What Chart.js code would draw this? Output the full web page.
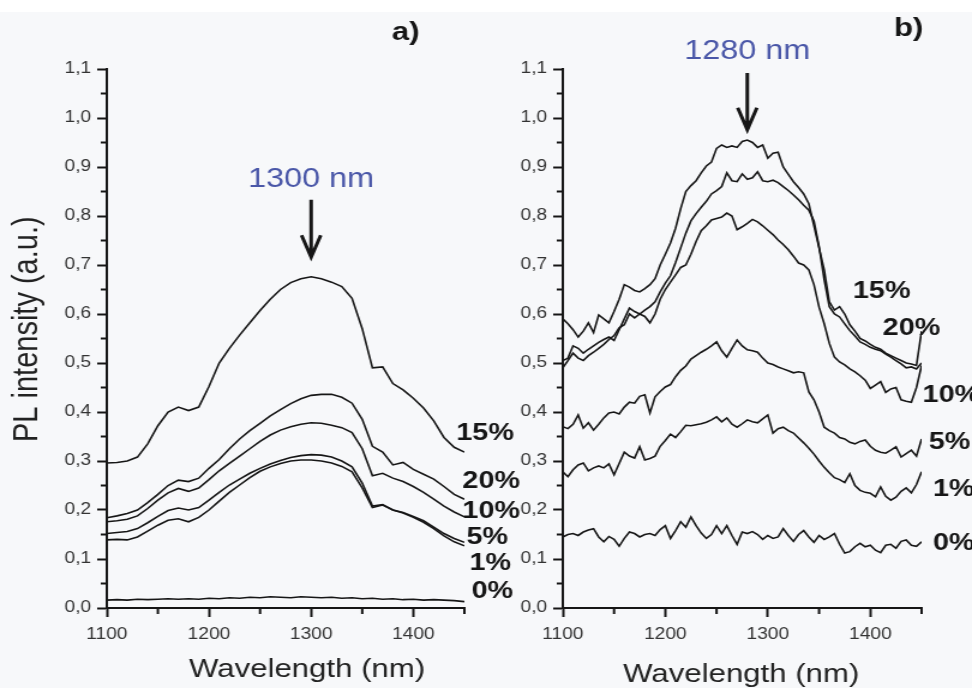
<!DOCTYPE html>
<html>
<head>
<meta charset="utf-8">
<script src="https://cdn.jsdelivr.net/npm/chart.js@4.4.1/dist/chart.umd.min.js"></script>
<style>
  html, body { margin: 0; padding: 0; background: #f7f8fa; }
  body { width: 972px; height: 688px; position: relative; overflow: hidden; }
  #topband { position: absolute; left: 0; top: 0; width: 972px; height: 12px; background: #fff; }
  canvas { position: absolute; top: 0; }
</style>
</head>
<body>
<div id="topband"></div>
<!-- the original figure is stretched sideways, so each canvas is drawn narrow and widened by CSS -->
<canvas id="chartA" width="450" height="688" style="left:0;width:540px;height:688px"></canvas>
<canvas id="chartB" width="405" height="688" style="left:486px;width:486px;height:688px"></canvas>
<script>
// ================================ //
//  Données : spectres PL (a et b)  //
// ================================ //
const WL_A = [1100, 1110, 1120, 1130, 1140, 1150, 1160, 1170, 1180, 1190,
              1200, 1210, 1220, 1230, 1240, 1250, 1260, 1270, 1280, 1290,
              1300, 1310, 1320, 1330, 1340, 1350, 1360, 1370, 1380, 1390,
              1400, 1410, 1420, 1430, 1440, 1450];

const A_15 = [0.296, 0.297, 0.300, 0.308, 0.335, 0.372, 0.400, 0.410, 0.403, 0.410,
              0.452, 0.500, 0.530, 0.557, 0.582, 0.607, 0.630, 0.650, 0.664, 0.672,
              0.676, 0.672, 0.665, 0.656, 0.632, 0.570, 0.490, 0.492, 0.458, 0.445,
              0.428, 0.408, 0.382, 0.348, 0.328, 0.318];
const A_20 = [0.184, 0.188, 0.193, 0.200, 0.215, 0.232, 0.250, 0.261, 0.258, 0.265,
              0.285, 0.303, 0.325, 0.345, 0.362, 0.377, 0.392, 0.405, 0.417, 0.427,
              0.434, 0.436, 0.436, 0.430, 0.418, 0.385, 0.330, 0.318, 0.292, 0.297,
              0.283, 0.273, 0.263, 0.248, 0.232, 0.222];
const A_10 = [0.176, 0.178, 0.181, 0.188, 0.203, 0.220, 0.235, 0.244, 0.238, 0.245,
              0.262, 0.280, 0.295, 0.310, 0.325, 0.340, 0.353, 0.363, 0.370, 0.375,
              0.378, 0.377, 0.373, 0.368, 0.358, 0.325, 0.270, 0.275, 0.265, 0.258,
              0.248, 0.236, 0.222, 0.208, 0.196, 0.186];
const A_5 = [0.152, 0.154, 0.156, 0.162, 0.174, 0.187, 0.199, 0.204, 0.200, 0.205,
             0.220, 0.236, 0.251, 0.263, 0.275, 0.285, 0.294, 0.301, 0.307, 0.311,
             0.313, 0.312, 0.308, 0.300, 0.288, 0.255, 0.208, 0.211, 0.200, 0.195,
             0.187, 0.178, 0.165, 0.152, 0.142, 0.134];
const A_1 = [0.139, 0.140, 0.139, 0.145, 0.157, 0.169, 0.179, 0.182, 0.176, 0.185,
             0.200, 0.218, 0.236, 0.251, 0.266, 0.279, 0.288, 0.295, 0.300, 0.302,
             0.302, 0.300, 0.296, 0.289, 0.278, 0.245, 0.205, 0.210, 0.200, 0.194,
             0.185, 0.175, 0.162, 0.147, 0.135, 0.127];
const A_0 = [0.016, 0.017, 0.016, 0.018, 0.017, 0.018, 0.019, 0.018, 0.019, 0.018,
             0.020, 0.019, 0.021, 0.020, 0.022, 0.021, 0.023, 0.022, 0.021, 0.023,
             0.022, 0.021, 0.022, 0.020, 0.021, 0.019, 0.020, 0.018, 0.019, 0.017,
             0.018, 0.016, 0.017, 0.016, 0.015, 0.013];

const WL_B = [1100, 1105, 1110, 1115, 1120, 1125, 1130, 1135, 1140, 1145,
              1150, 1155, 1160, 1165, 1170, 1175, 1180, 1185, 1190, 1195,
              1200, 1205, 1210, 1215, 1220, 1225, 1230, 1235, 1240, 1245,
              1250, 1255, 1260, 1265, 1270, 1275, 1280, 1285, 1290, 1295,
              1300, 1305, 1310, 1315, 1320, 1325, 1330, 1335, 1340, 1345,
              1350, 1355, 1360, 1365, 1370, 1375, 1380, 1385, 1390, 1395,
              1400, 1405, 1410, 1415, 1420, 1425, 1430, 1435, 1440, 1445,
              1450];

const B_15 = [0.590, 0.580, 0.568, 0.553, 0.565, 0.582, 0.562, 0.598, 0.590, 0.582,
              0.605, 0.630, 0.660, 0.655, 0.648, 0.645, 0.652, 0.660, 0.672, 0.700,
              0.722, 0.745, 0.775, 0.815, 0.850, 0.862, 0.872, 0.888, 0.902, 0.910,
              0.938, 0.945, 0.940, 0.943, 0.940, 0.952, 0.955, 0.950, 0.940, 0.945,
              0.918, 0.928, 0.930, 0.900, 0.885, 0.870, 0.858, 0.845, 0.825, 0.780,
              0.735, 0.690, 0.625, 0.608, 0.615, 0.600, 0.578, 0.565, 0.550, 0.545,
              0.538, 0.532, 0.528, 0.520, 0.515, 0.510, 0.505, 0.500, 0.498, 0.495,
              0.565];
const B_20 = [0.505, 0.510, 0.535, 0.530, 0.520, 0.528, 0.535, 0.542, 0.548, 0.553,
              0.546, 0.568, 0.590, 0.612, 0.605, 0.600, 0.608, 0.615, 0.625, 0.645,
              0.663, 0.678, 0.705, 0.735, 0.765, 0.790, 0.805, 0.818, 0.830, 0.845,
              0.852, 0.860, 0.888, 0.872, 0.870, 0.886, 0.875, 0.878, 0.890, 0.872,
              0.870, 0.873, 0.868, 0.860, 0.852, 0.843, 0.833, 0.822, 0.812, 0.790,
              0.737, 0.670, 0.615, 0.600, 0.594, 0.580, 0.566, 0.555, 0.543, 0.538,
              0.532, 0.528, 0.525, 0.518, 0.512, 0.505, 0.498, 0.490, 0.492, 0.488,
              0.500];
const B_10 = [0.490, 0.505, 0.520, 0.510, 0.505, 0.515, 0.522, 0.530, 0.538, 0.548,
              0.556, 0.572, 0.578, 0.600, 0.592, 0.600, 0.595, 0.582, 0.600, 0.630,
              0.650, 0.665, 0.680, 0.695, 0.700, 0.722, 0.748, 0.770, 0.780, 0.792,
              0.795, 0.798, 0.806, 0.800, 0.772, 0.778, 0.785, 0.793, 0.788, 0.780,
              0.771, 0.762, 0.751, 0.742, 0.731, 0.718, 0.704, 0.700, 0.690, 0.660,
              0.614, 0.580, 0.540, 0.512, 0.502, 0.496, 0.488, 0.482, 0.474, 0.465,
              0.448, 0.455, 0.462, 0.440, 0.447, 0.450, 0.425, 0.422, 0.420, 0.450,
              0.495];
const B_5 = [0.370, 0.366, 0.375, 0.394, 0.367, 0.378, 0.363, 0.375, 0.388, 0.398,
             0.400, 0.396, 0.410, 0.420, 0.418, 0.432, 0.435, 0.398, 0.431, 0.442,
             0.451, 0.456, 0.472, 0.485, 0.494, 0.508, 0.515, 0.522, 0.528, 0.535,
             0.543, 0.525, 0.512, 0.530, 0.547, 0.535, 0.527, 0.525, 0.522, 0.510,
             0.500, 0.497, 0.492, 0.488, 0.484, 0.480, 0.482, 0.480, 0.441, 0.425,
             0.400, 0.369, 0.362, 0.357, 0.348, 0.345, 0.338, 0.335, 0.340, 0.343,
             0.330, 0.322, 0.318, 0.316, 0.322, 0.329, 0.308, 0.315, 0.322, 0.310,
             0.345];
const B_1 = [0.278, 0.268, 0.282, 0.292, 0.296, 0.280, 0.286, 0.290, 0.286, 0.294,
             0.272, 0.295, 0.318, 0.310, 0.306, 0.329, 0.302, 0.305, 0.310, 0.330,
             0.342, 0.355, 0.348, 0.360, 0.373, 0.372, 0.374, 0.376, 0.379, 0.384,
             0.390, 0.380, 0.388, 0.375, 0.369, 0.376, 0.384, 0.380, 0.378, 0.386,
             0.394, 0.357, 0.366, 0.369, 0.362, 0.357, 0.347, 0.337, 0.326, 0.314,
             0.300, 0.287, 0.276, 0.266, 0.262, 0.256, 0.274, 0.250, 0.240, 0.236,
             0.234, 0.227, 0.247, 0.228, 0.220, 0.226, 0.238, 0.245, 0.235, 0.252,
             0.278];
const B_0 = [0.145, 0.150, 0.152, 0.148, 0.155, 0.159, 0.162, 0.145, 0.135, 0.146,
             0.140, 0.126, 0.142, 0.155, 0.152, 0.145, 0.150, 0.152, 0.148, 0.160,
             0.168, 0.142, 0.158, 0.176, 0.165, 0.186, 0.168, 0.153, 0.142, 0.150,
             0.168, 0.152, 0.168, 0.148, 0.130, 0.155, 0.152, 0.156, 0.150, 0.140,
             0.148, 0.142, 0.145, 0.162, 0.148, 0.136, 0.150, 0.158, 0.145, 0.134,
             0.148, 0.140, 0.145, 0.152, 0.130, 0.112, 0.115, 0.125, 0.132, 0.125,
             0.128, 0.118, 0.113, 0.128, 0.130, 0.122, 0.136, 0.139, 0.128, 0.126,
             0.135];

const SERIES_NAMES = ["15%", "20%", "10%", "5%", "1%", "0%"];
const MINOR_X = [1150, 1250, 1350, 1450];
const MINOR_Y = [0.05, 0.15, 0.25, 0.35, 0.45, 0.55, 0.65, 0.75, 0.85, 0.95, 1.05];

const FONT = "'Liberation Sans', Arial, sans-serif";
const INK = "#161616";

// ============================ //
//  Plugin : annotations, flèches //
// ============================ //
const extras = {
    id: "extras",
    afterDraw(chart, args, o) {
        const ctx = chart.ctx;
        const xs = chart.scales.x, ys = chart.scales.y;
        const area = chart.chartArea;
        const px = v => xs.getPixelForValue(v);
        const py = v => ys.getPixelForValue(v);

        ctx.save();

        // petites graduations
        ctx.strokeStyle = INK;
        ctx.lineWidth = 2;
        ctx.beginPath();
        MINOR_Y.forEach(v => {
            ctx.moveTo(area.left, py(v));
            ctx.lineTo(area.left - 5, py(v));
        });
        MINOR_X.forEach(v => {
            ctx.moveTo(px(v), area.bottom);
            ctx.lineTo(px(v), area.bottom + 6);
        });
        ctx.stroke();

        // lettre du panneau
        ctx.fillStyle = INK;
        ctx.font = `bold 26px ${FONT}`;
        ctx.textAlign = "left";
        ctx.textBaseline = "alphabetic";
        ctx.fillText(o.letter, px(o.letterAt[0]), py(o.letterAt[1]));

        // pic + flèche
        const ax = px(o.peak);
        ctx.fillStyle = "#4a57a8";
        ctx.font = `27px ${FONT}`;
        ctx.textAlign = "center";
        ctx.fillText(o.peakText, ax, py(o.peakTextV));

        const y0 = py(o.arrow[0]), y1 = py(o.arrow[1]);
        ctx.strokeStyle = INK;
        ctx.lineWidth = 3;
        ctx.beginPath();
        ctx.moveTo(ax, y0);
        ctx.lineTo(ax, y1);
        ctx.moveTo(ax - 8, y1 - 22);
        ctx.lineTo(ax, y1);
        ctx.lineTo(ax + 8, y1 - 22);
        ctx.stroke();

        // étiquettes des séries
        ctx.fillStyle = INK;
        ctx.font = `bold 24px ${FONT}`;
        ctx.textAlign = "left";
        ctx.textBaseline = "middle";
        SERIES_NAMES.forEach((name, i) => {
            const at = o.labels[i];
            ctx.fillText(name, px(at[0]), py(at[1]));
        });

        // titres des axes
        ctx.fillStyle = "#222";
        ctx.font = `26px ${FONT}`;
        ctx.textAlign = "center";
        ctx.textBaseline = "alphabetic";
        ctx.fillText("Wavelength (nm)", px(o.xTitle[0]), py(o.xTitle[1]));

        if (o.yTitle) {
            ctx.translate(o.yTitle[0], py(o.yTitle[1]));
            ctx.rotate(-Math.PI / 2);
            ctx.font = `29px ${FONT}`;
            ctx.textBaseline = "middle";
            ctx.fillText("PL intensity (a.u.)", 0, 0);
        }

        ctx.restore();
    }
};

function makeChart(id, wl, series, yAxisWidth, rightPad, notes) {
    const datasets = series.map((vals, i) => ({
        label: SERIES_NAMES[i],
        data: vals.map((v, k) => ({ x: wl[k], y: v })),
        borderColor: INK,
        borderWidth: 1.6,
        pointRadius: 0,
        fill: false,
        tension: 0
    }));

    return new Chart(document.getElementById(id), {
        type: "line",
        data: { datasets },
        plugins: [extras],
        options: {
            responsive: false,
            devicePixelRatio: 1,
            animation: false,
            layout: { padding: { left: 0, right: rightPad, top: 69, bottom: 0 } },
            plugins: {
                legend: { display: false },
                tooltip: { enabled: false },
                extras: notes
            },
            scales: {
                x: {
                    type: "linear",
                    min: 1100,
                    max: 1450,
                    border: { display: true, color: INK, width: 2 },
                    grid: { drawOnChartArea: false, drawTicks: true, tickLength: 9, tickWidth: 2, tickColor: INK },
                    ticks: {
                        stepSize: 100,
                        includeBounds: false,
                        maxRotation: 0,
                        padding: 8,
                        color: "#333",
                        font: { family: FONT, size: 16 },
                        callback: v => String(v)
                    },
                    afterFit: s => { s.height = 80; }
                },
                y: {
                    min: 0,
                    max: 1.1,
                    border: { display: true, color: INK, width: 2 },
                    grid: { drawOnChartArea: false, drawTicks: true, tickLength: 8, tickWidth: 2, tickColor: INK },
                    ticks: {
                        stepSize: 0.1,
                        padding: 5,
                        color: "#333",
                        font: { family: FONT, size: 16 },
                        callback: v => v.toFixed(1).replace(".", ",")
                    },
                    afterFit: s => { s.width = yAxisWidth; }
                }
            }
        }
    });
}

makeChart("chartA", WL_A, [A_15, A_20, A_10, A_5, A_1, A_0], 89, 63, {
    letter: "a)",
    letterAt: [1379, 1.159],
    peak: 1300,
    peakText: "1300 nm",
    peakTextV: 0.859,
    arrow: [0.833, 0.716],
    labels: [[1442, 0.357], [1448, 0.259], [1448, 0.198], [1452, 0.145], [1455, 0.092], [1457, 0.033]],
    xTitle: [1296, -0.141],
    yTitle: [22.5, 0.569]
});

makeChart("chartB", WL_B, [B_15, B_20, B_10, B_5, B_1, B_0], 64, 42, {
    letter: "b)",
    letterAt: [1423, 1.167],
    peak: 1280,
    peakText: "1280 nm",
    peakTextV: 1.120,
    arrow: [1.092, 0.976],
    labels: [[1383, 0.647], [1412, 0.571], [1451, 0.433], [1457, 0.337], [1461, 0.243], [1461, 0.131]],
    xTitle: [1274, -0.151],
    yTitle: null
});
</script>
</body>
</html>
